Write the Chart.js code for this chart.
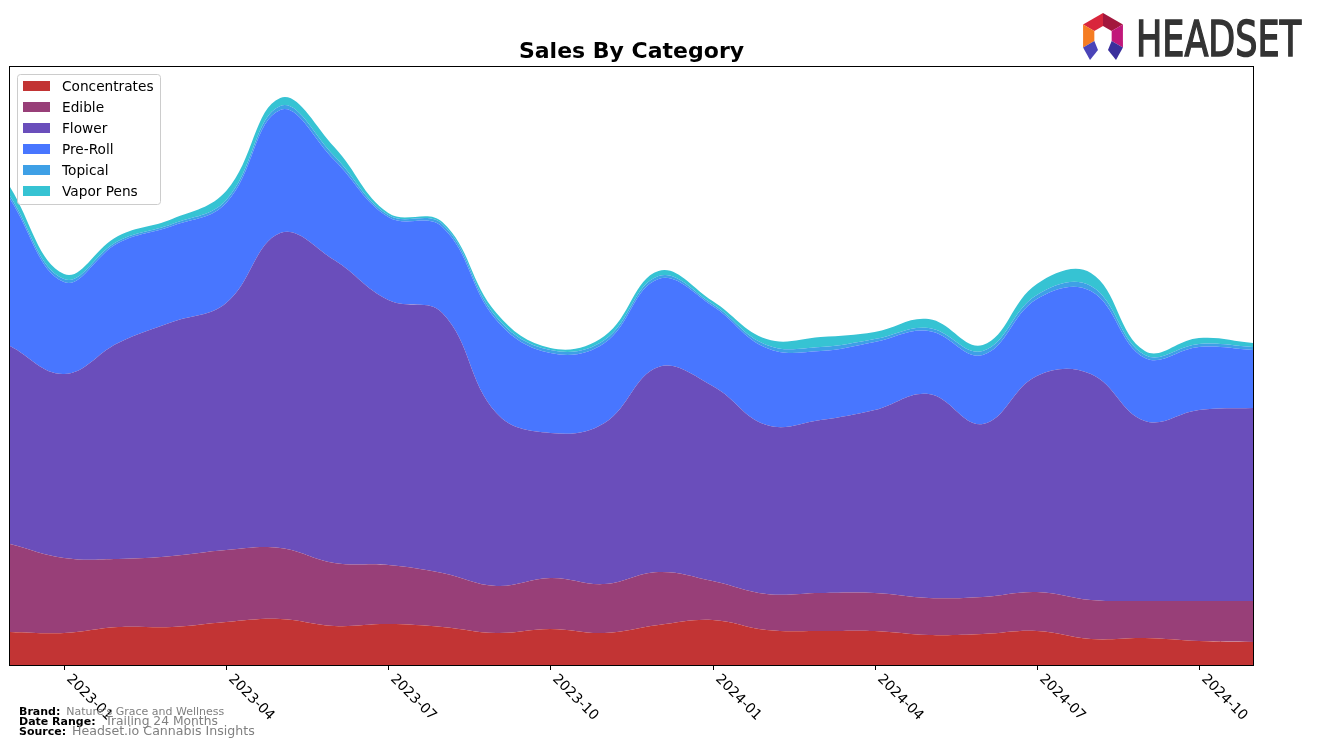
<!DOCTYPE html>
<html>
<head>
<meta charset="utf-8">
<title>Sales By Category</title>
<script src="https://cdn.jsdelivr.net/npm/chart.js@4.4.1/dist/chart.umd.min.js"></script>
<style>
    html, body { margin: 0; padding: 0; background: #fff; }
    #wrap { width: 1317px; height: 748px; }
</style>
</head>
<body>
<div id="wrap"><canvas id="salesChart" width="1317" height="748"></canvas></div>
<script>
// months of the trailing 24 months window
const months = ['2022-12', '2023-01', '2023-02', '2023-03', '2023-04', '2023-05', '2023-06', '2023-07',
    '2023-08', '2023-09', '2023-10', '2023-11', '2023-12', '2024-01', '2024-02', '2024-03',
    '2024-04', '2024-05', '2024-06', '2024-07', '2024-08', '2024-09', '2024-10', '2024-11'];
const tickLabels = ['2023-01', '2023-04', '2023-07', '2023-10', '2024-01', '2024-04', '2024-07', '2024-10'];

// sales per category (arbitrary units)
const concentrates = [33, 32, 38, 38, 43, 46, 39, 41, 38, 32, 36, 32, 40, 45, 35, 34, 34, 30, 31, 34, 26, 27, 24, 23];
const edible = [88, 75, 68, 71, 72, 71, 63, 59, 54, 47, 51, 49, 53, 39, 36, 38, 38, 37, 37, 39, 39, 37, 40, 41];
const flower = [198, 184, 216, 234, 247, 315, 303, 265, 260, 173, 145, 161, 205, 195, 169, 173, 183, 204, 173, 216, 226, 180, 191, 193];
const preRoll = [147, 92, 100, 96, 100, 123, 100, 83, 86, 93, 80, 80, 88, 80, 77, 69, 68, 63, 69, 77, 83, 63, 63, 58];
const topical = [3, 3, 2, 2, 3, 4, 4, 2, 3, 3, 3, 3, 3, 2, 3, 4, 3, 3, 4, 4, 5, 3, 3, 3];
const vaporPens = [9, 5, 5, 5, 9, 8, 9, 2, 2, 4, 2, 4, 5, 3, 6, 10, 7, 9, 6, 11, 13, 4, 6, 4];

const categories = ['Concentrates', 'Edible', 'Flower', 'Pre-Roll', 'Topical', 'Vapor Pens'];
const colors = ['#c23434', '#983f78', '#6a4ebb', '#4876ff', '#3ea0e6', '#36c3d3'];
const series = [concentrates, edible, flower, preRoll, topical, vaporPens];

// titulo, leyenda, ejes y pie dibujados a mano
const decorPlugin = {
    id: 'decor',
    afterDraw(chart) {
        const ctx = chart.ctx;
        const a = chart.chartArea;
        const x = chart.scales.x;
        ctx.save();

        // marco del grafico
        ctx.strokeStyle = '#000';
        ctx.lineWidth = 1;
        ctx.strokeRect(a.left - 0.5, a.top - 0.5, a.right - a.left + 1, a.bottom - a.top + 1);

        // titulo
        ctx.fillStyle = '#000';
        ctx.font = 'bold 22px "DejaVu Sans"';
        ctx.textAlign = 'center';
        ctx.textBaseline = 'middle';
        ctx.fillText('Sales By Category', (a.left + a.right) / 2, 52);

        // ticks y etiquetas giradas
        ctx.font = '14px "DejaVu Sans"';
        ctx.textAlign = 'left';
        ctx.textBaseline = 'top';
        tickLabels.forEach(lbl => {
            const px = Math.round(x.getPixelForValue(months.indexOf(lbl))) + 0.5;
            ctx.beginPath();
            ctx.moveTo(px, a.bottom);
            ctx.lineTo(px, a.bottom + 5);
            ctx.stroke();
            ctx.save();
            ctx.translate(px + 9, a.bottom + 7);
            ctx.rotate(Math.PI / 4);
            ctx.fillText(lbl, 0, 0);
            ctx.restore();
        });

        // leyenda
        const lx = 17, ly = 74, lw = 143, lh = 130;
        ctx.fillStyle = 'rgba(255,255,255,0.8)';
        ctx.strokeStyle = '#cccccc';
        ctx.beginPath();
        ctx.roundRect(lx + 0.5, ly + 0.5, lw, lh, 3);
        ctx.fill();
        ctx.stroke();
        ctx.font = '13.7px "DejaVu Sans"';
        ctx.textBaseline = 'middle';
        categories.forEach((name, i) => {
            const cy = 86 + i * 21;
            ctx.fillStyle = colors[i];
            ctx.fillRect(23, cy - 5, 27, 10);
            ctx.fillStyle = '#000';
            ctx.fillText(name, 62, cy + 1);
        });

        // pie de pagina
        const footer = [
            ['Brand:', "Nature's Grace and Wellness", 712, '11px'],
            ['Date Range:', ' Trailing 24 Months', 722, '12.3px'],
            ['Source:', 'Headset.io Cannabis Insights', 732, '12.6px']
        ];
        footer.forEach(f => {
            ctx.font = 'bold 11px "DejaVu Sans"';
            ctx.fillStyle = '#000';
            ctx.fillText(f[0], 19, f[2]);
            const w = ctx.measureText(f[0] + ' ').width;
            ctx.font = f[3] + ' "DejaVu Sans"';
            ctx.fillStyle = '#808080';
            ctx.fillText(f[1], 21 + w, f[2]);
        });

        // logo
        drawLogo(ctx);
        ctx.restore();
    }
};

function drawLogo(ctx) {
    const cx = 1103, cy = 36, R = 23, r = 10;
    const pt = (rad, deg) => [cx + rad * Math.cos(deg * Math.PI / 180), cy + rad * Math.sin(deg * Math.PI / 180)];
    const wedges = [
        [210, 270, '#d9263c'],
        [270, 330, '#a3173d'],
        [330, 390, '#c1187a'],
        [150, 210, '#f57c22']
    ];
    wedges.forEach(w => {
        const p1 = pt(R, w[0]), p2 = pt(R, w[1]), p3 = pt(r, w[1]), p4 = pt(r, w[0]);
        ctx.fillStyle = w[2];
        ctx.beginPath();
        ctx.moveTo(p1[0], p1[1]);
        ctx.lineTo(p2[0], p2[1]);
        ctx.lineTo(p3[0], p3[1]);
        ctx.lineTo(p4[0], p4[1]);
        ctx.closePath();
        ctx.fill();
    });
    // patas inferiores
    const ll = pt(R, 150), lli = pt(r, 150), rr = pt(R, 30), rri = pt(r, 30);
    ctx.fillStyle = '#4a44b8';
    ctx.beginPath();
    ctx.moveTo(ll[0], ll[1]);
    ctx.lineTo(lli[0], lli[1]);
    ctx.lineTo(cx - 5, cy + 14);
    ctx.lineTo(cx - 13, cy + 24);
    ctx.closePath();
    ctx.fill();
    ctx.fillStyle = '#3a2f9c';
    ctx.beginPath();
    ctx.moveTo(rr[0], rr[1]);
    ctx.lineTo(rri[0], rri[1]);
    ctx.lineTo(cx + 5, cy + 14);
    ctx.lineTo(cx + 13, cy + 24);
    ctx.closePath();
    ctx.fill();

    // texto HEADSET comprimido
    ctx.fillStyle = '#333333';
    ctx.strokeStyle = '#333333';
    ctx.lineWidth = 1.6;
    ctx.font = '50px "DejaVu Sans"';
    ctx.textAlign = 'left';
    ctx.textBaseline = 'alphabetic';
    const tw = ctx.measureText('HEADSET').width;
    ctx.save();
    ctx.translate(1136, 56);
    ctx.scale(165 / tw, 1);
    ctx.fillText('HEADSET', 0, 0);
    ctx.strokeText('HEADSET', 0, 0);
    ctx.restore();
}

const datasets = categories.map((name, i) => ({
    label: name,
    data: series[i],
    backgroundColor: colors[i],
    borderColor: colors[i],
    borderWidth: 0,
    pointRadius: 0,
    fill: i === 0 ? 'origin' : '-1',
    tension: 0.4
}));

new Chart(document.getElementById('salesChart').getContext('2d'), {
    type: 'line',
    data: { labels: months, datasets: datasets },
    options: {
        responsive: false,
        animation: false,
        layout: { padding: { left: 10, right: 64, top: 67, bottom: 83 } },
        scales: {
            x: { type: 'category', display: false },
            y: { stacked: true, display: false, min: 0, max: 598 }
        },
        plugins: {
            legend: { display: false },
            title: { display: false },
            tooltip: { enabled: false }
        }
    },
    plugins: [decorPlugin]
});
</script>
</body>
</html>
